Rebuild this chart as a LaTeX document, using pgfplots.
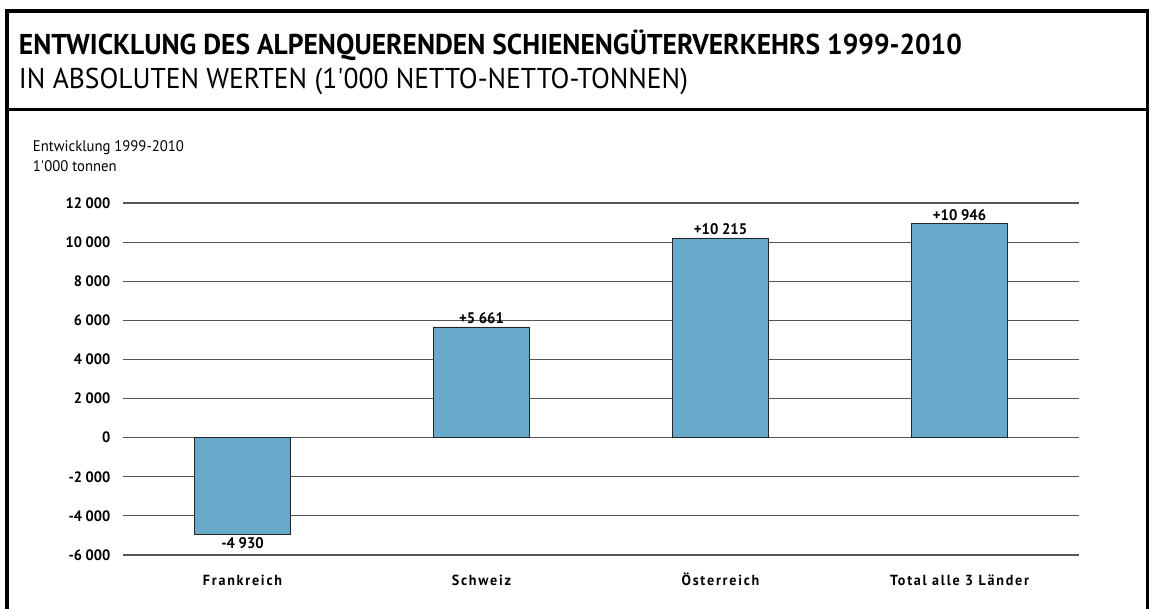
\documentclass[border=0pt]{standalone}
\usepackage{pgfplots}
\usepackage{pgfplotstable}
\pgfplotsset{compat=1.18}
\usepackage{fontspec}
\setmainfont{PT Sans}[FakeStretch=0.96]
\definecolor{barblue}{HTML}{67A9C9}
\definecolor{gridgray}{HTML}{555555}
\pgfplotstableread{
x y label
1 5661 {+5 661}
2 10215 {+10 215}
3 10946 {+10 946}
}\postable
\pgfplotstableread{
x y label
0 -4930 {-4 930}
}\negtable
\begin{document}
\begin{tikzpicture}
\useasboundingbox (0,0) rectangle (863.25pt,456.75pt);
\draw[line width=2.7pt] (5.1pt,-4pt) -- (5.1pt,448.5pt) -- (860.6pt,448.5pt) -- (860.6pt,-4pt);
\draw[line width=2.5pt] (5.1pt,374.6pt) -- (860.6pt,374.6pt);
\node[anchor=west, inner sep=0pt, font=\fontsize{21.5}{24}\selectfont\bfseries] at (14pt,422.6pt) {ENTWICKLUNG DES ALPENQUERENDEN SCHIENENGÜTERVERKEHRS 1999-2010};
\node[anchor=west, inner sep=0pt, font=\fontsize{21.5}{24}\selectfont] at (14pt,395.5pt) {IN ABSOLUTEN WERTEN (1\textquotesingle 000 NETTO-NETTO-TONNEN)};
\node[anchor=west, inner sep=0pt, font=\fontsize{11.5}{13}\selectfont] at (24.5pt,346pt) {Entwicklung 1999-2010};
\node[anchor=west, inner sep=0pt, font=\fontsize{11.5}{13}\selectfont] at (24.5pt,332pt) {1\textquotesingle 000 tonnen};
\begin{axis}[
  at={(92.25pt,40.5pt)}, anchor=south west,
  scale only axis,
  width=717pt, height=264pt,
  xmin=-0.5, xmax=3.5,
  ymin=-6000, ymax=12000,
  ytick={-6000,-4000,...,12000},
  xtick={0,1,2,3},
  xticklabels={Frankreich,Schweiz,Österreich,Total alle 3 Länder},
  axis line style={draw=none},
  major tick length=0pt,
  ymajorgrids,
  grid style={gridgray, line width=0.9pt},
  /pgf/number format/assume math mode=true,
  /pgf/number format/1000 sep={\ },
  scaled y ticks=false,
  yticklabel style={font=\fontsize{11.3}{13}\selectfont\bfseries, xshift=-6pt},
  xticklabel style={font=\fontsize{11}{13}\selectfont\bfseries\addfontfeatures{LetterSpace=12}, text height=9pt, text depth=2pt, yshift=-10pt},
  ybar, bar width=0.4, bar shift=0pt,
  point meta=explicit symbolic,
  clip=false,
]
\addplot[fill=barblue, draw=black!85, line width=0.6pt,
  nodes near coords,
  nodes near coords style={font=\fontsize{11.5}{13}\selectfont\bfseries, inner sep=2pt, anchor=south}]
  table[x=x, y=y, meta=label] {\postable};
\addplot[fill=barblue, draw=black!85, line width=0.6pt,
  nodes near coords,
  nodes near coords style={font=\fontsize{11.5}{13}\selectfont\bfseries, inner sep=2pt, anchor=north}]
  table[x=x, y=y, meta=label] {\negtable};
\end{axis}
\end{tikzpicture}
\end{document}
